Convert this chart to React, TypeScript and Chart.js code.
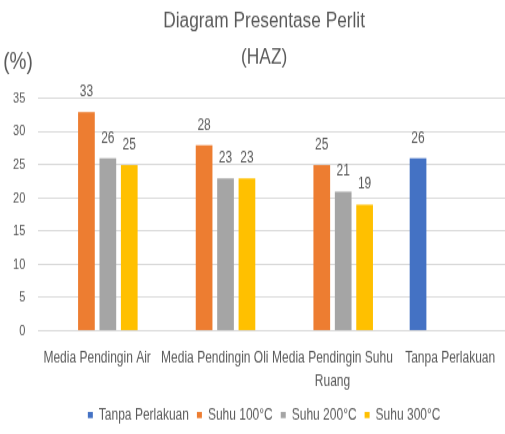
import React, { useEffect, useRef } from "react";
import { Chart, registerables } from "chart.js";

Chart.register(...registerables);

const categories: (string | string[])[] = [
  "Media Pendingin Air",
  "Media Pendingin Oli",
  ["Media Pendingin Suhu", "Ruang"],
  "Tanpa Perlakuan",
];
const seriesNames = ["Tanpa Perlakuan", "Suhu 100°C", "Suhu 200°C", "Suhu 300°C"];
const tanpaPerlakuan = [null, null, null, 26];
const suhu100 = [33, 28, 25, null];
const suhu200 = [26, 23, 21, null];
const suhu300 = [25, 23, 19, null];
const seriesColors = ["#4472C4", "#ED7D31", "#A5A5A5", "#FFC000"];
const titleLines = ["Diagram Presentase Perlit", "(HAZ)"];
const yUnitLabel = "(%)";
const yMin = 0;
const yMax = 35;
const yStep = 5;

const FONT = "'Liberation Sans', Arial, sans-serif";
const TEXT = "#595959";
const CANVAS_W = 509;
const CANVAS_H = 334;
const STRETCH = 434 / CANVAS_H;
const TICK_SIZE = 11;

const valueLabels = {
  id: "valueLabels",
  afterDatasetsDraw(chart: any) {
    const ctx = chart.ctx;
    ctx.save();
    ctx.font = `12px ${FONT}`;
    ctx.fillStyle = TEXT;
    ctx.textAlign = "center";
    ctx.textBaseline = "middle";
    chart.data.datasets.forEach((ds: any, i: number) => {
      const meta = chart.getDatasetMeta(i);
      meta.data.forEach((el: any, j: number) => {
        const v = ds.data[j];
        if (v === null || v === undefined) return;
        ctx.fillText(String(v), el.x, el.y - 15.4);
      });
    });
    ctx.restore();
  },
};

const unitLabel = {
  id: "unitLabel",
  afterDraw(chart: any) {
    const ctx = chart.ctx;
    const area = chart.chartArea;
    ctx.save();
    ctx.font = `19px ${FONT}`;
    ctx.fillStyle = TEXT;
    ctx.textAlign = "center";
    ctx.textBaseline = "middle";
    ctx.fillText(yUnitLabel, area.left - 20.3, area.top - 28.3);
    ctx.restore();
  },
};

export default function App() {
  const ref = useRef<HTMLCanvasElement | null>(null);

  useEffect(() => {
    const canvas = ref.current;
    if (!canvas) return;
    const datasetsData = [tanpaPerlakuan, suhu100, suhu200, suhu300];

    // widest y tick label, so mirrored labels can be right-aligned outside the plot
    const mctx = document.createElement("canvas").getContext("2d") as CanvasRenderingContext2D;
    mctx.font = `${TICK_SIZE}px ${FONT}`;
    let widest = 0;
    for (let v = yMin; v <= yMax; v += yStep) {
      widest = Math.max(widest, mctx.measureText(String(v)).width);
    }

    const chart = new Chart(canvas, {
      type: "bar",
      data: {
        labels: categories as any,
        datasets: seriesNames.map((name, i) => ({
          label: name,
          data: datasetsData[i] as any,
          backgroundColor: seriesColors[i],
          borderWidth: 0,
          categoryPercentage: 0.728,
          barPercentage: 0.78,
        })),
      },
      options: {
        responsive: false,
        animation: false,
        devicePixelRatio: 1,
        layout: { padding: { left: 19.3, right: 0, top: 0, bottom: -1.4 } },
        plugins: {
          tooltip: { enabled: false },
          title: {
            display: true,
            text: titleLines,
            color: TEXT,
            font: { family: FONT, size: 17.3, weight: "normal", lineHeight: 1.6 },
            padding: { top: 2.35, bottom: 18.25 },
          },
          legend: {
            display: true,
            position: "bottom",
            labels: {
              color: TEXT,
              font: { family: FONT, size: 12 },
              boxWidth: 5,
              boxHeight: 4.6,
              padding: 8,
            },
          },
        },
        scales: {
          x: {
            grid: { display: false, drawTicks: false },
            border: { display: false },
            ticks: {
              color: TEXT,
              font: { family: FONT, size: 12, lineHeight: 1.54 },
              padding: 11.75,
              autoSkip: false,
              maxRotation: 0,
              minRotation: 0,
            },
            afterFit(scale: any) {
              scale.height = 50.9;
            },
          },
          y: {
            min: yMin,
            max: yMax,
            grid: { color: "#D9D9D9", lineWidth: 1, drawTicks: false },
            border: { display: false },
            ticks: {
              stepSize: yStep,
              color: TEXT,
              font: { family: FONT, size: TICK_SIZE },
              mirror: true,
              crossAlign: "far",
              padding: -13 - widest,
            },
            afterFit(scale: any) {
              scale.width = 19;
            },
          },
        },
      },
      plugins: [valueLabels, unitLabel],
    });
    return () => chart.destroy();
  }, []);

  return (
    <div
      style={{
        position: "fixed",
        left: 0,
        top: 0,
        width: 505,
        height: 434,
        overflow: "hidden",
        background: "#ffffff",
      }}
    >
      <div style={{ transform: `scaleY(${STRETCH})`, transformOrigin: "0 0", width: CANVAS_W, height: CANVAS_H }}>
        <canvas
          ref={ref}
          width={CANVAS_W}
          height={CANVAS_H}
          style={{ width: CANVAS_W, height: CANVAS_H, display: "block" }}
        />
      </div>
    </div>
  );
}
